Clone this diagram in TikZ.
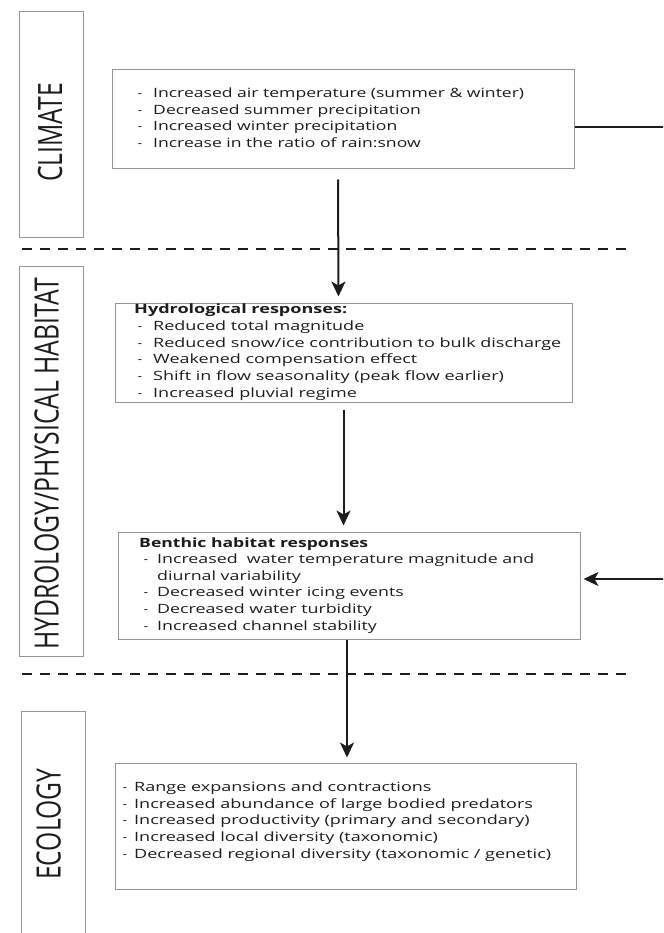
\documentclass[tikz,border=0pt]{standalone}
\usepackage{fontspec}
\usepackage{graphicx}
\setmainfont{Open Sans}
\newfontfamily\bodyfont{Open Sans}
\usetikzlibrary{arrows.meta,calc}
\definecolor{boxgray}{RGB}{150,150,150}
\definecolor{ink}{RGB}{30,27,28}
\newcommand\hstretch[2]{\resizebox{#1}{\height}{#2}}
\newcommand\textlines[2]{\resizebox{#1}{\height}{\begin{tabular}[t]{@{}l@{}}#2\end{tabular}}}
\newcommand\dashcol[1]{\begin{tabular}[t]{@{}c@{}}#1\end{tabular}}
\begin{document}
\begin{tikzpicture}[x=1pt,y=-1pt,
  catbox/.style={draw=boxgray,line width=1pt,inner sep=0pt,rectangle},
  infobox/.style={draw=boxgray,line width=1pt,inner sep=0pt,rectangle},
  body/.style={font=\bodyfont\fontsize{12.8}{16.7}\selectfont,text=ink,inner sep=0pt},
  ttl/.style={font=\bodyfont\bfseries\fontsize{12.8}{16.7}\selectfont,text=ink,inner sep=0pt,anchor=base west},
  catlabel/.style={font=\bodyfont\fontsize{33.5}{36}\selectfont,rotate=90,anchor=base west,inner sep=0pt,text=ink},
  conn/.style={line width=2pt,draw=ink},
  arr/.style={conn,-{Stealth[length=15pt,width=14pt,inset=4pt]}},
  divider/.style={line width=1.7pt,draw=ink,dash pattern=on 10pt off 8pt}]
\useasboundingbox (0,0) rectangle (663,933);
\clip (0,0) rectangle (663,933);

% category label boxes
\node[catbox,minimum width=64pt,minimum height=225pt] (climlbl) at (51,124.5) {};
\node[catlabel] (climtxt) at (62,182) {\hstretch{99pt}{CLIMATE}};
\node[catbox,minimum width=64pt,minimum height=390pt] (hydlbl) at (51,461) {};
\node[catlabel] (hydtxt) at (58.5,650) {\hstretch{372pt}{HYDROLOGY/PHYSICAL HABITAT}};
\node[catbox,minimum width=64.5pt,minimum height=249pt] (ecolbl) at (53.25,835.5) {};
\node[catlabel] (ecotxt) at (60.5,880) {\hstretch{111pt}{ECOLOGY}};

% content boxes
\node[infobox,minimum width=462pt,minimum height=99pt] (clim) at (343,119.5) {};
\node[infobox,minimum width=457pt,minimum height=99pt] (hydro) at (343.5,352.5) {};
\node[infobox,minimum width=462pt,minimum height=107pt] (benth) at (349,585.5) {};
\node[infobox,minimum width=461pt,minimum height=126pt] (eco) at (345.5,826) {};

% climate text
\node[body,anchor=base] (climdash) at (140,97.6) {\dashcol{-\\-\\-\\-}};
\node[body,anchor=base west] (climtext) at (153,97.6) {\textlines{371pt}{Increased air temperature (summer \& winter)\\Decreased summer precipitation\\Increased winter precipitation\\Increase in the ratio of rain:snow}};

% hydrology text
\node[ttl] (hydtitle) at (134,313.3) {\hstretch{213pt}{Hydrological responses:}};
\node[body,anchor=base] (hyddash) at (140,330.3) {\dashcol{-\\-\\-\\-\\-}};
\node[body,anchor=base west] (hydtext) at (153,330.3) {\textlines{408pt}{Reduced total magnitude\\Reduced snow/ice contribution to bulk discharge\\Weakened compensation effect\\Shift in flow seasonality (peak flow earlier)\\Increased pluvial regime}};

% benthic text
\node[ttl] (bentitle) at (139,547.3) {\hstretch{229pt}{Benthic habitat responses}};
\node[body,anchor=base] (bendash) at (146,563.3) {\dashcol{-\\ \\-\\-\\-}};
\node[body,anchor=base west] (bentext) at (157,563.3) {\textlines{377pt}{Increased\ \ water temperature magnitude and\\diurnal variability\\Decreased winter icing events\\Decreased water turbidity\\Increased channel stability}};

% ecology text
\node[body,anchor=base] (ecodash) at (125,791.3) {\dashcol{-\\-\\-\\-\\-}};
\node[body,anchor=base west] (ecotext) at (134,791.3) {\textlines{417pt}{Range expansions and contractions\\Increased abundance of large bodied predators\\Increased productivity (primary and secondary)\\Increased local diversity (taxonomic)\\Decreased regional diversity (taxonomic / genetic)}};

% dividers
\coordinate (d1a) at (22,249);
\coordinate (d1b) at (632,249);
\coordinate (d2a) at (22,674);
\coordinate (d2b) at (632,674);
\draw[divider] (d1a) -- (d1b);
\draw[divider] (d2a) -- (d2b);

% connectors
\coordinate (rimtop) at (670,127);
\coordinate (rimmid) at (670,579);
\coordinate (p1) at (hydro.south |- benth.north);
\coordinate (p2) at (benth.south |- eco.north);
\draw[conn] (clim.east |- rimtop) -- (rimtop);
\draw[arr,shorten >=3pt] (rimmid) -- (benth.east |- rimmid);
\draw[arr] ([xshift=-5pt,yshift=-10pt]clim.south) -- ([xshift=-5pt,yshift=6pt]hydro.north);
\draw[arr] ([yshift=-7pt]hydro.south) -- ([yshift=6pt]p1);
\draw[arr] ([xshift=-2pt]benth.south) -- ([xshift=-2pt,yshift=5pt]p2);
\end{tikzpicture}
\end{document}
